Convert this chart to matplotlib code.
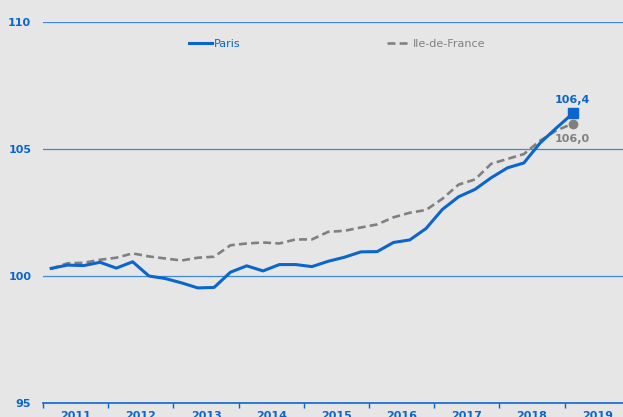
import matplotlib
matplotlib.use("Agg")
import matplotlib.pyplot as plt
import numpy as np
from matplotlib.lines import Line2D

### Data (quarterly index, 2011 Q1 -> 2019 Q1) ###
years = ["2011", "2012", "2013", "2014", "2015", "2016", "2017", "2018", "2019"]
paris = [100.30, 100.43, 100.41, 100.54, 100.31, 100.56, 100.00, 99.90, 99.73,
         99.53, 99.55, 100.15, 100.40, 100.20, 100.45, 100.45, 100.37, 100.58,
         100.74, 100.95, 100.96, 101.32, 101.42, 101.87, 102.62, 103.12, 103.41,
         103.87, 104.26, 104.45, 105.24, 105.83, 106.40]
idf = [100.28, 100.50, 100.52, 100.64, 100.72, 100.89, 100.77, 100.69, 100.61,
       100.72, 100.76, 101.21, 101.28, 101.32, 101.28, 101.44, 101.44, 101.74,
       101.78, 101.91, 102.03, 102.31, 102.49, 102.60, 103.04, 103.60, 103.80,
       104.42, 104.61, 104.80, 105.33, 105.73, 106.00]
labels = ["Paris", "Ile-de-France"]
last_labels = ["106,4", "106,0"]

### Style ###
bg = "#e6e6e6"
blue = "#0a66cc"
grid_blue = "#3f88da"
gray = "#808080"
plt.rcParams["font.family"] = ["DejaVu Sans"]

fig = plt.figure(figsize=(6.23, 4.17), dpi=100, facecolor=bg)
ax = fig.add_axes([43/623, 14/417, 580/623, 381/417], facecolor=bg)

x = np.arange(len(paris)) * 0.25 + 0.125   # quarter midpoints, in years since 2011

ax.plot(x, idf, color=gray, lw=1.9, dashes=(3, 1.6), solid_capstyle="butt", zorder=3)
ax.plot(x, paris, color=blue, lw=2.2, zorder=4)
ax.plot(x[-1], idf[-1], "o", color=gray, ms=6, zorder=5)
ax.plot(x[-1], paris[-1], "s", color=blue, ms=7, zorder=6)

ax.annotate(last_labels[0], (x[-1], paris[-1]), xytext=(0, 10), textcoords="offset points",
            ha="center", va="center", color=blue, fontsize=8, fontweight="bold")
ax.annotate(last_labels[1], (x[-1], idf[-1]), xytext=(0, -11), textcoords="offset points",
            ha="center", va="center", color=gray, fontsize=8, fontweight="bold")

# axes
ax.set_ylim(95, 110)
ax.set_xlim(0, 580/65.2)
ax.set_yticks([95, 100, 105, 110])
ax.set_yticklabels(["95", "100", "105", "110"])
ax.tick_params(axis="y", length=0, pad=8.5, labelcolor=blue, labelsize=8)
for lab in ax.get_yticklabels():
    lab.set_fontweight("bold")
for v in [100, 105, 110]:
    ax.axhline(v, color=grid_blue, lw=0.9, zorder=1)

ax.set_xticks(np.arange(0, 9))
ax.set_xticklabels([])
ax.set_xticks(np.arange(len(years)) + 0.5, minor=True)
ax.set_xticklabels(years, minor=True)
ax.tick_params(axis="x", which="major", length=3.5, width=1, color=blue, direction="out")
ax.tick_params(axis="x", which="minor", length=0, pad=5.5, labelcolor=blue, labelsize=8)
for lab in ax.get_xticklabels(minor=True):
    lab.set_fontweight("bold")

for s in ["top", "right", "left"]:
    ax.spines[s].set_visible(False)
ax.spines["bottom"].set_color(blue)
ax.spines["bottom"].set_linewidth(1.2)

handles = [Line2D([], [], color=blue, lw=2.2),
           Line2D([], [], color=gray, lw=1.9, dashes=(3, 1.6))]
leg = ax.legend(handles, labels, ncol=2, loc="center", bbox_to_anchor=(337/623, 1 - 44/417),
                bbox_transform=fig.transFigure, frameon=False, fontsize=8,
                handlelength=2.1, handletextpad=0.2, columnspacing=13.2)
for t, c in zip(leg.get_texts(), [blue, gray]):
    t.set_color(c)

fig.savefig("out.png", dpi=100, facecolor=bg)
